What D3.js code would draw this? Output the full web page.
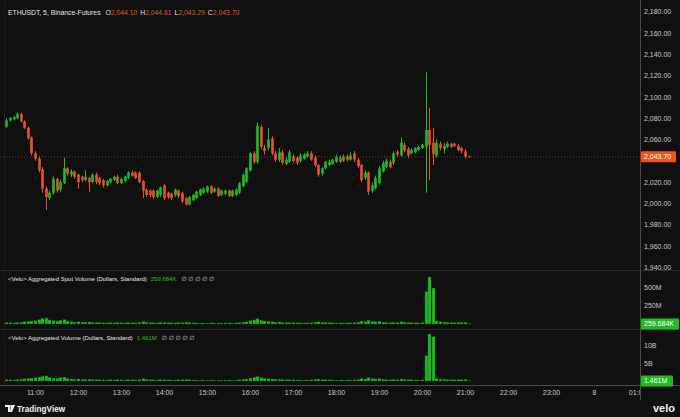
<!DOCTYPE html>
<html>
<head>
<meta charset="utf-8">
<script src="https://cdn.jsdelivr.net/npm/d3@7"></script>
<style>
  body { margin: 0; background: #101010; }
  svg { display: block; font-family: "Liberation Sans", "DejaVu Sans", sans-serif; }
</style>
</head>
<body>
<div id="chart"></div>
<script>
// 5 minute candles, ETHUSDT Binance-Futures, from 10:20
const opens  = [2072,2078,2079,2080,2084,2077,2071,2062,2047,2042,2032,2014,2005,2010,2023,2013,2019,2033,2027,2030,
                2027,2025,2022,2024,2020,2027,2024,2022,2017,2020,2022,2025,2019,2021,2024,2029,2029,2029,2021,2013,
                2012,2012,2006,2008,2017,2010,2009,2008,2012,2010,2005,1999,2003,2005,2008,2010,2011,2016,2011,2014,
                2008,2009,2012,2007,2008,2010,2016,2020,2031,2047,2039,2072,2052,2052,2061,2047,2041,2048,2037,2039,
                2044,2043,2040,2042,2044,2047,2043,2036,2028,2033,2036,2037,2039,2043,2040,2044,2041,2047,2041,2036,
                2024,2029,2012,2014,2019,2030,2034,2039,2038,2048,2045,2055,2051,2047,2048,2050,2052,2053,2069,2057,
                2045,2056,2051,2053,2056,2056,2054,2052,2049,2044.10];
const highs  = [2080,2081,2082,2085,2085,2078,2072,2063,2049,2044,2034,2016,2012,2025,2024,2022,2043,2034,2032,2031,
                2028,2026,2031,2025,2028,2029,2025,2023,2022,2024,2026,2027,2024,2026,2030,2031,2030,2030,2022,2014,
                2013,2013,2013,2016,2018,2011,2010,2014,2013,2011,2006,2007,2009,2012,2014,2015,2017,2017,2015,2015,
                2013,2013,2013,2013,2014,2020,2028,2034,2048,2049,2076,2074,2055,2071,2063,2049,2052,2050,2043,2050,
                2046,2044,2047,2047,2049,2049,2045,2037,2034,2040,2041,2042,2046,2045,2046,2046,2048,2049,2043,2037,
                2031,2030,2019,2026,2035,2040,2042,2041,2049,2050,2062,2057,2053,2052,2053,2054,2056,2123,2090,2071,
                2060,2058,2057,2058,2057,2057,2056,2053,2051,2044.61];
const lows   = [2071,2077,2078,2079,2076,2070,2060,2045,2040,2029,2010,1994,2003,2008,2010,2011,2018,2026,2025,2023,
                2014,2020,2021,2011,2019,2018,2017,2015,2016,2019,2021,2018,2018,2020,2023,2025,2023,2019,2005,2006,
                2006,2004,2005,2006,2003,2004,2003,2006,2005,2000,1998,1998,2002,2004,2007,2009,2010,2009,2010,2006,
                2007,2008,2006,2006,2007,2009,2015,2019,2030,2037,2037,2051,2046,2050,2045,2039,2039,2036,2036,2038,
                2038,2036,2038,2041,2043,2040,2034,2025,2026,2032,2035,2036,2038,2038,2039,2039,2040,2039,2033,2020,
                2022,2008,2010,2013,2018,2029,2033,2033,2036,2044,2044,2048,2043,2046,2047,2049,2051,2010,2022,2036,
                2043,2050,2047,2052,2052,2053,2049,2047,2042,2043.29];
const closes = [2078,2080,2081,2084,2077,2071,2061,2047,2042,2031,2014,2006,2010,2023,2012,2020,2033,2028,2030,2025,
                2020,2022,2025,2020,2027,2020,2019,2017,2021,2023,2025,2019,2023,2025,2029,2026,2024,2020,2012,2008,
                2008,2006,2012,2015,2005,2006,2005,2013,2007,2002,1999,2006,2008,2011,2013,2014,2016,2010,2014,2007,
                2012,2012,2007,2012,2013,2019,2027,2033,2047,2039,2073,2053,2049,2060,2047,2041,2048,2038,2041,2048,
                2040,2038,2045,2046,2047,2041,2036,2027,2033,2039,2039,2041,2044,2039,2044,2041,2045,2041,2035,2022,
                2029,2011,2017,2024,2033,2038,2040,2034,2047,2046,2057,2050,2045,2050,2052,2053,2055,2069,2055,2046,
                2057,2052,2054,2056,2053,2054,2050,2049,2044,2043.70];

// volume panes
const spotVolM = [20,18,15,20,25,30,35,40,45,60, 75,80,55,45,40,50,60,40,30,25,
                  30,25,25,28,20,22,20,18,15,18, 15,20,18,15,20,18,15,22,35,25,
                  20,18,15,20,22,18,15,15,18,20, 25,18,15,14,12,14,12,15,12,14,
                  12,14,15,12,15,18,25,30,45,55, 70,50,40,35,30,25,28,22,20,18,
                  18,16,15,14,15,18,25,30,22,20, 18,16,14,15,14,16,15,18,25,40,
                  30,50,35,30,35,25,20,18,22,20, 30,22,20,18,16,15,18,436,635,486,
                  40,30,25,22,20,18,20,22,25,8];
const aggVolB = [0.4,0.35,0.3,0.4,0.5,0.6,0.7,0.8,0.9,1.1, 1.3,1.4,1.0,0.8,0.7,0.9,1.1,0.7,0.55,0.45,
                 0.55,0.45,0.45,0.5,0.38,0.4,0.36,0.33,0.28,0.33, 0.28,0.36,0.33,0.28,0.36,0.33,0.28,0.4,0.62,0.45,
                 0.36,0.33,0.28,0.36,0.4,0.33,0.28,0.28,0.33,0.36, 0.45,0.33,0.28,0.26,0.22,0.26,0.22,0.28,0.22,0.26,
                 0.22,0.26,0.28,0.22,0.28,0.33,0.45,0.55,0.8,1.0, 1.25,0.9,0.72,0.62,0.55,0.45,0.5,0.4,0.36,0.33,
                 0.33,0.29,0.28,0.26,0.28,0.33,0.45,0.55,0.4,0.36, 0.33,0.29,0.26,0.28,0.26,0.29,0.28,0.33,0.45,0.72,
                 0.55,0.9,0.62,0.55,0.62,0.45,0.36,0.33,0.4,0.36, 0.55,0.4,0.36,0.33,0.29,0.28,0.33,7.0,13.05,12.3,
                 0.72,0.55,0.45,0.4,0.36,0.33,0.36,0.4,0.45,0.15];

// 2,040 is covered by the last price badge
const priceTicks = [1940,1960,1980,2000,2020,2060,2080,2100,2120,2140,2160,2180];
const timeTickHours = [11,12,13,14,15,16,17,18,19,20,21,22,23,24,25];
const timeTickLabels = ['11:00','12:00','13:00','14:00','15:00','16:00','17:00','18:00','19:00','20:00','21:00','22:00','23:00','8','01:00'];
const lastPrice = 2043.70;
const spotLast = '259.684K', aggLast = '1.461M';

const W = 680, H = 417;
const up = '#1fbd1f', down = '#e8532b', bg = '#101010';
const plotR = 640;

const day = (h, m) => new Date(2024, 2, 7, h, m || 0);
const data = closes.map((c, i) => ({
  t: day(10, 20 + i * 5), o: opens[i], h: highs[i], l: lows[i], c: c,
  sv: spotVolM[i], av: aggVolB[i]
}));

const svg = d3.select('#chart').append('svg').attr('width', W).attr('height', H);
svg.append('rect').attr('width', W).attr('height', H).attr('fill', bg);

// scales
const x = d3.scaleTime().domain([day(10), day(25)]).range([-8, 637]);
const y = d3.scaleLinear().domain([1940, 2180]).range([267.3, 11.7]);
const ySpot = d3.scaleLinear().domain([0, 500]).range([324, 287]);
const yAgg = d3.scaleLinear().domain([0, 10]).range([381, 345]);

svg.append('clipPath').attr('id', 'plot').append('rect').attr('x', 0).attr('y', 0).attr('width', plotR).attr('height', H);
const plot = svg.append('g').attr('clip-path', 'url(#plot)');

// pane borders
svg.append('line').attr('x1', 0).attr('x2', W).attr('y1', 270.5).attr('y2', 270.5).attr('stroke', '#2c2c2c');
svg.append('line').attr('x1', 0).attr('x2', W).attr('y1', 329.5).attr('y2', 329.5).attr('stroke', '#2c2c2c');
svg.append('line').attr('x1', 0).attr('x2', W).attr('y1', 385.5).attr('y2', 385.5).attr('stroke', '#4a4a4a');
svg.append('line').attr('x1', plotR + 0.5).attr('x2', plotR + 0.5).attr('y1', 0).attr('y2', 400).attr('stroke', '#4a4a4a');
svg.append('line').attr('x1', 4.5).attr('x2', 4.5).attr('y1', 0).attr('y2', 385).attr('stroke', '#1c1c1c');

// last price line
plot.append('line').attr('x1', 0).attr('x2', plotR).attr('y1', y(lastPrice)).attr('y2', y(lastPrice))
  .attr('stroke', down).attr('stroke-opacity', 0.55).attr('stroke-dasharray', '1 2');

// candles
const cw = 2.6;
const candles = plot.append('g').selectAll('g').data(data).join('g');
candles.append('line')
  .attr('x1', d => Math.round(x(d.t)) + 0.5).attr('x2', d => Math.round(x(d.t)) + 0.5)
  .attr('y1', d => y(d.h)).attr('y2', d => y(d.l))
  .attr('stroke', d => d.c >= d.o ? up : down).attr('stroke-width', 1);
candles.append('rect')
  .attr('x', d => Math.round(x(d.t)) + 0.5 - cw / 2).attr('width', cw)
  .attr('y', d => y(Math.max(d.o, d.c)))
  .attr('height', d => Math.max(1, Math.abs(y(d.o) - y(d.c))))
  .attr('fill', d => d.c >= d.o ? up : down);

// volume bars
plot.append('g').selectAll('rect').data(data).join('rect')
  .attr('x', d => Math.round(x(d.t)) - 1).attr('width', 3)
  .attr('y', d => ySpot(d.sv)).attr('height', d => 324 - ySpot(d.sv))
  .attr('fill', '#1fc21f').attr('stroke', '#0c5a0c').attr('stroke-width', 0.4);
plot.append('g').selectAll('rect').data(data).join('rect')
  .attr('x', d => Math.round(x(d.t)) - 1).attr('width', 3)
  .attr('y', d => yAgg(d.av)).attr('height', d => 381 - yAgg(d.av))
  .attr('fill', '#1fc21f').attr('stroke', '#0c5a0c').attr('stroke-width', 0.4);

// right axes
const axisText = '#c8cad0';
const fs = 7;
const fmt = d3.format(',.2f');
function rightAxis(scale, ticks, f) {
  const g = svg.append('g').attr('transform', `translate(${plotR},0)`)
    .call(d3.axisRight(scale).tickValues(ticks).tickFormat(f).tickSize(0).tickPadding(4));
  g.select('.domain').remove();
  g.selectAll('text').attr('fill', axisText).attr('font-size', fs).attr('font-family', 'Liberation Sans');
}
rightAxis(y, priceTicks, fmt);
rightAxis(ySpot, [250, 500], d => d + 'M');
rightAxis(yAgg, [5, 10], d => d + 'B');

// badges
function badge(yy, w, label, fill) {
  svg.append('rect').attr('x', plotR + 1).attr('y', yy - 5.5).attr('width', w).attr('height', 11).attr('rx', 1).attr('fill', fill);
  svg.append('text').attr('x', plotR + 4).attr('y', yy).attr('dy', '0.35em').attr('fill', '#ffffff')
    .attr('font-size', fs).text(label);
}
badge(y(lastPrice), 35, fmt(lastPrice), '#f0541c');
badge(324, 38, spotLast, '#22b922');
badge(381, 32, aggLast, '#22b922');

// time axis
const tAxis = svg.append('g').attr('transform', 'translate(0,386)').attr('clip-path', 'url(#plot)')
  .call(d3.axisBottom(x).tickValues(timeTickHours.map(h => day(h)))
    .tickFormat((d, i) => timeTickLabels[i]).tickSize(0).tickPadding(4));
tAxis.select('.domain').remove();
tAxis.selectAll('text').attr('fill', axisText).attr('font-size', fs).attr('font-family', 'Liberation Sans');

// header
const head = svg.append('text').attr('x', 8).attr('y', 15).attr('font-size', 6.8).attr('fill', '#e6e6e6');
head.append('tspan').text('ETHUSDT, 5, Binance-Futures ');
[['O', '2,044.10'], ['H', '2,044.61'], ['L', '2,043.29'], ['C', '2,043.70']].forEach(([k, v]) => {
  head.append('tspan').attr('dx', 3).text(k);
  head.append('tspan').attr('fill', down).text(v);
});

function paneTitle(yy, title, val) {
  const t = svg.append('text').attr('x', 8).attr('y', yy).attr('font-size', 6).attr('fill', '#e6e6e6');
  t.append('tspan').text(title);
  t.append('tspan').attr('dx', 4).attr('fill', '#22c022').text(val);
  t.append('tspan').attr('dx', 5).attr('fill', '#d0d0d0').text('\u2205  \u2205  \u2205  \u2205  \u2205');
}
paneTitle(281, '<Velo> Aggregated Spot Volume (Dollars, Standard)', spotLast);
paneTitle(340, '<Velo> Aggregated Volume (Dollars, Standard)', aggLast);

// footer
const logo = svg.append('g').attr('transform', 'translate(5,405)');
logo.append('path').attr('d', 'M0,0 H5 V7 H3 V2 H0 Z M6,0 H10 L7,7 H5 Z').attr('fill', '#f0f0f0');
logo.append('circle').attr('cx', 6.2).attr('cy', 1.2).attr('r', 1.1).attr('fill', '#f0f0f0');
logo.append('text').attr('x', 12).attr('y', 6.8).attr('font-size', 8.2).attr('font-weight', 'bold')
  .attr('fill', '#f0f0f0').text('TradingView');
svg.append('text').attr('x', 675).attr('y', 412).attr('text-anchor', 'end').attr('font-size', 11)
  .attr('font-weight', 'bold').attr('fill', '#f0f0f0').text('velo');
</script>
</body>
</html>
